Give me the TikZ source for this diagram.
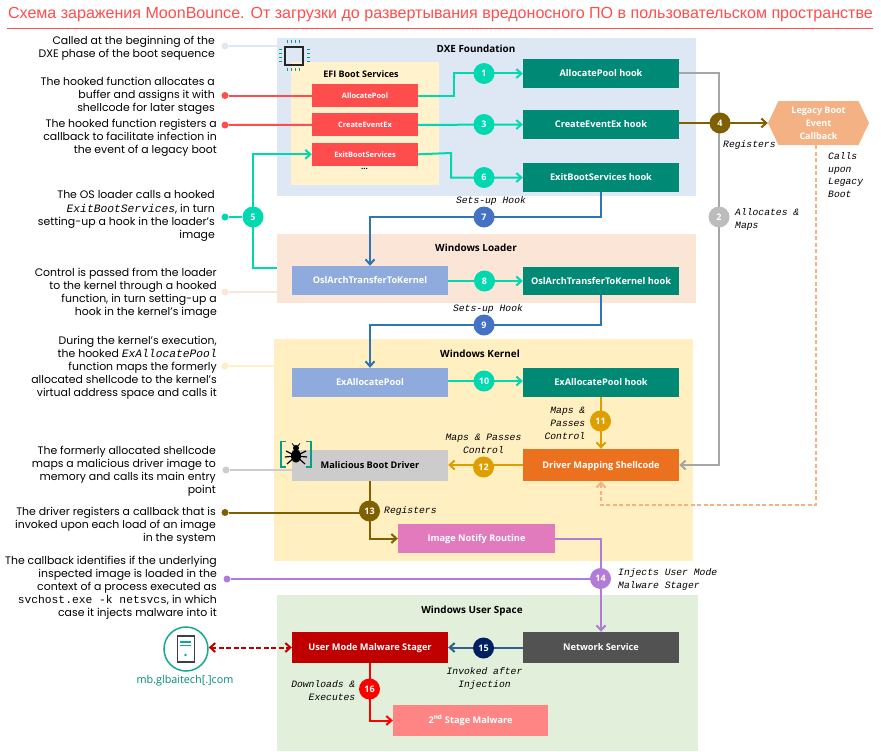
\documentclass[tikz,border=0pt]{standalone}
\usepackage{fontspec}
\setmainfont{Poppins}
\setsansfont{Open Sans}
\setmonofont{Liberation Mono}
\newfontfamily\titlefont{Liberation Sans}
\usetikzlibrary{positioning, shapes, arrows.meta, calc}
\definecolor{myteal}{RGB}{0, 216, 176}
\definecolor{myhook}{RGB}{0, 137, 116}
\definecolor{myred}{RGB}{255, 77, 77}
\definecolor{myfunc}{RGB}{143, 170, 220}
\definecolor{mygray}{RGB}{166, 166, 166}
\definecolor{mybrown}{RGB}{127, 96, 0}
\definecolor{myblue}{RGB}{46, 117, 182}
\definecolor{mystep}{RGB}{68, 114, 196}
\definecolor{mygold}{RGB}{222, 158, 0}
\definecolor{mypeach}{RGB}{244, 177, 131}
\definecolor{mypurple}{RGB}{176, 124, 216}
\definecolor{mydxe}{RGB}{222, 232, 244}
\definecolor{myefi}{RGB}{255, 242, 204}
\definecolor{myloader}{RGB}{251, 229, 214}
\definecolor{mykernel}{RGB}{255, 239, 193}
\definecolor{myuser}{RGB}{226, 239, 218}
\definecolor{myorange}{RGB}{236, 113, 30}
\definecolor{mypink}{RGB}{226, 123, 190}
\definecolor{mynavy}{RGB}{0, 32, 96}
\definecolor{mysteel}{RGB}{47, 95, 138}
\definecolor{mystager}{RGB}{192, 0, 0}
\definecolor{mysecond}{RGB}{255, 133, 133}
\definecolor{myserver}{RGB}{19, 169, 143}
\pgfdeclarelayer{front}
\pgfsetlayers{main,front}

\begin{document}
\begin{tikzpicture}[
    x=1pt, y=-1pt,
    groupBox/.style   = {rectangle, anchor=north west, inner sep=0pt},
    groupTitle/.style = {font=\sffamily\bfseries\fontsize{9.9}{12}\selectfont},
    funcNode/.style   = {rectangle, inner sep=0pt, minimum width=156pt, text height=7pt, text depth=0.5pt, text=white, font=\sffamily\bfseries\fontsize{9.2}{11}\selectfont},
    efiNode/.style    = {rectangle, inner sep=0pt, minimum width=106pt, minimum height=23pt, text height=5.8pt, text depth=0pt, fill=myred, text=white, font=\sffamily\bfseries\fontsize{7.4}{9}\selectfont},
    stepNode/.style   = {circle, inner sep=0pt, minimum size=21pt, text=white, font=\sffamily\bfseries\fontsize{9}{10}\selectfont},
    noteNode/.style   = {anchor=east, align=right, inner sep=0pt, font=\fontsize{10.9}{13.1}\selectfont},
    noteMono/.style   = {},
    noteDot/.style    = {circle, inner sep=0pt, minimum size=7pt},
    stepLabel/.style  = {inner sep=0pt, font=\ttfamily\itshape\fontsize{9.7}{12.9}\selectfont},
    myline/.style     = {line width=2pt},
    myarrow/.style    = {line width=2pt, -{Straight Barb[length=5pt, width=9pt, line width=2pt]}}
]
\useasboundingbox (0,0) rectangle (881,752);

% title
\node[inner sep=0pt, text=myred, font=\titlefont\fontsize{16.05}{18}\selectfont] (title) at (440.5,14.5) {Схема заражения MoonBounce. От загрузки до развертывания вредоносного ПО в пользовательском пространстве};
\coordinate (ruleStart) at (7,28.5);
\coordinate (ruleEnd) at (873,28.5);
\draw[myred, line width=1pt] (ruleStart) -- (ruleEnd);

% group boxes
\node[groupBox, fill=mydxe, minimum width=419pt, minimum height=158pt] (dxe) at (277,38) {};
\node[groupBox, fill=myefi, minimum width=148pt, minimum height=123pt] (efi) at (291,62) {};
\node[groupBox, fill=myloader, minimum width=419pt, minimum height=69pt] (loader) at (277,234) {};
\node[groupBox, fill=mykernel, minimum width=419pt, minimum height=222pt] (kernel) at (274,339) {};
\node[groupBox, fill=myuser, minimum width=421pt, minimum height=156pt] (user) at (277,595) {};

\node[groupTitle] (dxeTitle) at (476,48.5) {DXE Foundation};
\node[groupTitle, font=\sffamily\bfseries\fontsize{9}{11}\selectfont] (efiTitle) at (361,74) {EFI Boot Services};
\node[groupTitle] (loaderTitle) at (476,247.5) {Windows Loader};
\node[groupTitle] (kernelTitle) at (480,353.5) {Windows Kernel};
\node[groupTitle] (userTitle) at (472,610.5) {Windows User Space};

% boot services
\node[efiNode] (efiAlloc) at (365,95.5) {AllocatePool};
\node[efiNode, below=6pt of efiAlloc] (efiCreate) {CreateEventEx};
\node[efiNode, below=6pt of efiCreate] (efiExit) {ExitBootServices};
\node[inner sep=0pt, font=\sffamily\bfseries\fontsize{8}{9}\selectfont] (efiMore) at (364.5,169) {...};

% functions and hooks
\node[funcNode, minimum height=29pt, fill=myhook] (hookAlloc) at (601,73.5) {AllocatePool hook};
\node[funcNode, minimum height=29pt, fill=myhook] (hookCreate) at (601,124.5) {CreateEventEx hook};
\node[funcNode, minimum height=29pt, fill=myhook] (hookExit) at (601,177.5) {ExitBootServices hook};
\node[funcNode, minimum height=29pt, fill=myfunc] (osl) at (370,280.5) {OslArchTransferToKernel};
\node[funcNode, minimum height=28pt, fill=myhook] (hookOsl) at (601,281) {OslArchTransferToKernel hook};
\node[funcNode, minimum height=29pt, fill=myfunc] (exPool) at (370,382.5) {ExAllocatePool};
\node[funcNode, minimum height=29pt, fill=myhook] (hookPool) at (601,382.5) {ExAllocatePool hook};
\node[funcNode, minimum height=32pt, fill=myorange] (shellcode) at (601,465) {Driver Mapping Shellcode};
\node[funcNode, minimum height=31pt, fill=black!20, text=black] (driver) at (370,465.5) {Malicious Boot Driver};
\node[funcNode, minimum width=157pt, minimum height=29pt, fill=mypink] (notify) at (476.5,538.5) {Image Notify Routine};
\node[funcNode, minimum height=31pt, fill=black!68] (netService) at (601,647.5) {Network Service};
\node[funcNode, minimum height=31pt, fill=mystager] (stager) at (370,647.5) {User Mode Malware Stager};
\node[funcNode, minimum width=155pt, minimum height=31pt, fill=mysecond] (secondStage) at (470.5,720.5) {2\textsuperscript{nd} Stage Malware};
\node[signal, signal to=west and east, signal pointer angle=129, inner sep=0pt, minimum width=101pt, minimum height=44pt, fill=mypeach, align=center, text=white, font=\sffamily\bfseries\fontsize{9}{12.9}\selectfont] (legacy) at (818.5,123) {Legacy Boot\\Event\\Callback};

% numbered steps
\begin{pgfonlayer}{front}
\node[stepNode, fill=myteal] (stepA) at (484,73.5) {1};
\node[stepNode, fill=mygray!75] (stepB) at (719,217) {2};
\node[stepNode, fill=myteal] (stepC) at (484,124.5) {3};
\node[stepNode, fill=mybrown] (stepD) at (720,123) {4};
\node[stepNode, fill=myteal] (stepE) at (253,217) {5};
\node[stepNode, fill=myteal] (stepF) at (484,177.5) {6};
\node[stepNode, fill=mystep] (stepG) at (484,217) {7};
\node[stepNode, fill=myteal] (stepH) at (484.5,281) {8};
\node[stepNode, fill=mystep] (stepI) at (484,325) {9};
\node[stepNode, fill=myteal] (stepJ) at (484,381) {10};
\node[stepNode, fill=mygold] (stepK) at (600.5,421) {11};
\node[stepNode, fill=mygold] (stepL) at (483.5,467) {12};
\node[stepNode, fill=mybrown] (stepM) at (369.5,511) {13};
\node[stepNode, fill=mypurple] (stepN) at (600.5,578.5) {14};
\node[stepNode, fill=mynavy] (stepO) at (483.5,648) {15};
\node[stepNode, fill=red] (stepP) at (369.5,689) {16};
\end{pgfonlayer}

% connectors
\coordinate (bendAlloc) at (454,95.5);
\coordinate (bendExit) at (451,153);
\coordinate (bendFive) at (253,268);
\coordinate (kernelIn) at (370,325);
\coordinate (loaderIn) at (370,217);
\coordinate (dashCorner) at (816,505);
\coordinate (dashBack) at (601,505);

\draw[myarrow, myteal] (efiAlloc.east) -- (bendAlloc) |- (hookAlloc.west);
\draw[myarrow, myteal] (efiCreate.east) -- (hookCreate.west);
\draw[myarrow, myteal] (efiExit.east) -- (bendExit) |- (hookExit.west);
\draw[myarrow, myteal] (loader.west |- bendFive) -- (bendFive) |- (efiExit.west);
\draw[myarrow, myteal] (osl.east |- stepH) -- (hookOsl.west);
\draw[myarrow, myteal] (exPool.east |- stepJ) -- (hookPool.west |- stepJ);

\draw[myarrow, mygray] (hookAlloc.east) -| (stepB.center) |- (shellcode.east);
\draw[myarrow, mybrown] (hookCreate.east |- legacy.west) -- (legacy.west);
\draw[myarrow, myblue] (hookExit.south) |- (loaderIn) -- (osl.north);
\draw[myarrow, myblue] (hookOsl.south) |- (kernelIn) -- (exPool.north);
\draw[myarrow, mygold] (hookPool.south) -- (shellcode.north);
\draw[myarrow, mygold] (shellcode.west) -- (driver.east |- shellcode.west);
\draw[myarrow, mybrown] (driver.south) |- (notify.west);
\draw[myarrow, mypurple] (notify.east) -| (netService.north);
\draw[myarrow, mysteel] (netService.west) -- (stager.east);
\draw[myarrow, red] (stager.south) |- (secondStage.west);
\draw[myarrow, mypeach, dash pattern=on 4pt off 2.5pt] (legacy.south -| dashCorner) -- (dashCorner) -- (dashBack) -- (shellcode.south);

% server
\node[circle, draw=myserver, line width=1.5pt, minimum size=44pt, inner sep=0pt] (server) at (186,649) {};
\node[rectangle, draw=black!75, line width=1.2pt, minimum width=17pt, minimum height=26pt, inner sep=0pt] (serverBody) at (server.center) {};
\coordinate (barStart) at (180,642);
\coordinate (barEnd) at (191,642);
\coordinate (barStartB) at (180,645.5);
\coordinate (barEndB) at (191,645.5);
\draw[myserver, line width=1.3pt] (barStart) -- (barEnd);
\draw[myserver, line width=1.3pt] (barStartB) -- (barEndB);
\node[circle, fill=myserver, minimum size=2.6pt, inner sep=0pt] (serverLed) at (185.5,655) {};
\node[inner sep=0pt, text=myhook, font=\sffamily\fontsize{10.8}{12}\selectfont] (domain) at (185,681) {mb.glbaitech[.]com};
\draw[mystager, line width=2pt, dash pattern=on 5pt off 2.5pt, {Straight Barb[length=5pt, width=9pt, line width=2pt]}-{Straight Barb[length=5pt, width=9pt, line width=2pt]}] (server.east |- stager.west) -- (stager.west);

% chip and bug icons
\coordinate (chipA) at (285,47.5);
\coordinate (chipB) at (303,65);
\draw[black!85, line width=2pt] (chipA) rectangle (chipB);
\coordinate (tickTopA) at (287,41.7);
\coordinate (tickTopB) at (302,41.7);
\coordinate (tickLowA) at (287,70);
\coordinate (tickLowB) at (302,70);
\coordinate (tickLeftA) at (280,49);
\coordinate (tickLeftB) at (280,64);
\coordinate (tickRightA) at (308,49);
\coordinate (tickRightB) at (308,64);
\draw[myhook!70!myteal, line width=3pt, dash pattern=on 1.3pt off 2.6pt] (tickTopA) -- (tickTopB);
\draw[myhook!70!myteal, line width=3pt, dash pattern=on 1.3pt off 2.6pt] (tickLowA) -- (tickLowB);
\draw[myhook!70!myteal, line width=3pt, dash pattern=on 1.3pt off 2.6pt] (tickLeftA) -- (tickLeftB);
\draw[myhook!70!myteal, line width=3pt, dash pattern=on 1.3pt off 2.6pt] (tickRightA) -- (tickRightB);

\coordinate (brackLeft) at (286,441.5);
\coordinate (brackRight) at (306,441.5);
\draw[myhook!70!myteal, line width=1.4pt] (brackLeft) -- ++(-5,0) -- ++(0,25.5) -- ++(5,0);
\draw[myhook!70!myteal, line width=1.4pt] (brackRight) -- ++(5,0) -- ++(0,25.5) -- ++(-5,0);
\node[ellipse, fill=black, minimum width=10pt, minimum height=13pt, inner sep=0pt] (bugBody) at (296,456) {};
\node[circle, fill=black, minimum size=6pt, inner sep=0pt] (bugHead) at (296,448) {};
\draw[black, line width=1.2pt] (bugBody.center) -- ++(-10,-5) (bugBody.center) -- ++(10,-5);
\draw[black, line width=1.2pt] (bugBody.center) -- ++(-11,1) (bugBody.center) -- ++(11,1);
\draw[black, line width=1.2pt] (bugBody.center) -- ++(-9,8) (bugBody.center) -- ++(9,8);
\draw[black, line width=0.8pt] (bugHead.center) -- ++(-4,-4.5) (bugHead.center) -- ++(4,-4.5);

% notes on the left
\node[noteNode] (noteA) at (215,48) {Called at the beginning of the\\DXE phase of the boot sequence};
\node[noteNode] (noteB) at (215,96) {The hooked function allocates a\\buffer and assigns it with\\shellcode for later stages};
\node[noteNode] (noteC) at (217,138) {The hooked function registers a\\callback to facilitate infection in\\the event of a legacy boot};
\node[noteNode] (noteD) at (215,216) {The OS loader calls a hooked\\{\ttfamily\itshape\fontsize{11.3}{13.1}\selectfont ExitBootServices}, in turn\\setting-up a hook in the loader's\\image};
\node[noteNode] (noteE) at (217,293.5) {Control is passed from the loader\\to the kernel through a hooked\\function, in turn setting-up a\\hook in the kernel's image};
\node[noteNode] (noteF) at (217,368) {During the kernel's execution,\\the hooked {\ttfamily\itshape\fontsize{11.3}{13.1}\selectfont ExAllocatePool}\\function maps the formerly\\allocated shellcode to the kernel's\\virtual address space and calls it};
\node[noteNode] (noteG) at (216,471.5) {The formerly allocated shellcode\\maps a malicious driver image to\\memory and calls its main entry\\point};
\node[noteNode] (noteH) at (216,526) {The driver registers a callback that is\\invoked upon each load of an image\\in the system};
\node[noteNode] (noteI) at (217,587.5) {The callback identifies if the underlying\\inspected image is loaded in the\\context of a process executed as\\{\ttfamily\fontsize{11.3}{13.1}\selectfont svchost.exe -k netsvcs}, in which\\case it injects malware into it};

\node[noteDot, fill=mydxe] (dotA) at (225,46) {};
\node[noteDot, fill=myred] (dotB) at (225,95.5) {};
\node[noteDot, fill=myred] (dotC) at (225,125) {};
\node[noteDot, fill=myteal] (dotD) at (225,217) {};
\node[noteDot, fill=myloader] (dotE) at (225,292) {};
\node[noteDot, fill=mykernel] (dotF) at (225,366) {};
\node[noteDot, fill=black!20] (dotG) at (226,470) {};
\node[noteDot, fill=mybrown] (dotH) at (225,512.5) {};
\node[noteDot, fill=mypurple] (dotI) at (227,579) {};

\draw[myline, mydxe] (dotA) -- (dotA -| dxe.west);
\draw[myline, myred] (dotB) -- (efiAlloc.west);
\draw[myline, myred] (dotC) -- (efiCreate.west);
\draw[myline, myteal] (dotD) -- (stepE);
\draw[myline, myloader] (dotE) -- (dotE -| loader.west);
\draw[myline, mykernel] (dotF) -- (dotF -| kernel.west);
\draw[myline, black!20] (dotG) -- (dotG -| driver.west);
\draw[myline, mybrown] (dotH) -- (dotH -| stepM);
\draw[myline, mypurple] (dotI) -- (dotI -| stepN);

% labels of the steps
\node[stepLabel, anchor=west] (lblRegTop) at (723,144.5) {Registers};
\node[stepLabel, anchor=west, align=left] (lblMaps) at (735,219.5) {Allocates \&\\Maps};
\node[stepLabel, anchor=west, align=left] (lblCalls) at (828,175) {Calls\\upon\\Legacy\\Boot};
\node[stepLabel] (lblHookA) at (491,200.5) {Sets-up Hook};
\node[stepLabel] (lblHookB) at (488,308.5) {Sets-up Hook};
\node[stepLabel, anchor=east, align=right] (lblCtrlA) at (585.5,423) {Maps \&\\Passes\\Control};
\node[stepLabel, align=center] (lblCtrlB) at (483.5,444) {Maps \& Passes\\Control};
\node[stepLabel, anchor=west] (lblRegLow) at (384,511) {Registers};
\node[stepLabel, anchor=west, align=left] (lblInject) at (618,579.5) {Injects User Mode\\Malware Stager};
\node[stepLabel, align=center] (lblInvoke) at (484.5,678.5) {Invoked after\\Injection};
\node[stepLabel, anchor=east, align=right] (lblDown) at (355.5,690.5) {Downloads \&\\Executes};

\end{tikzpicture}
\end{document}
